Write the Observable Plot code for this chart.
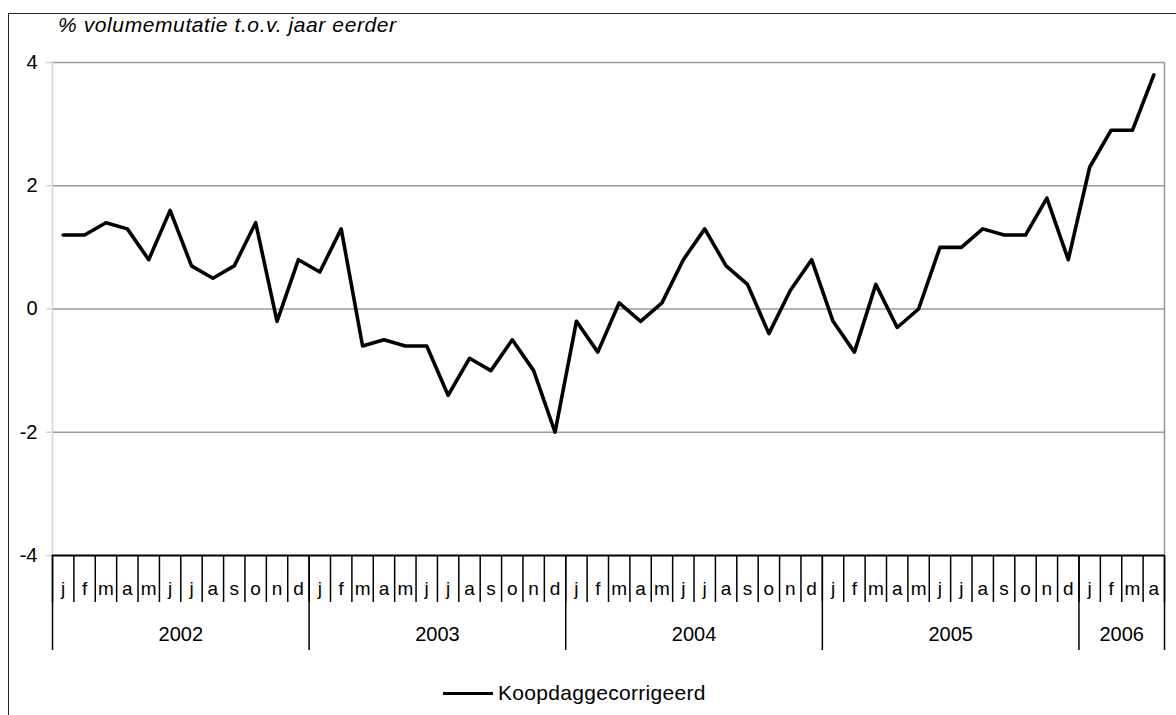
<!DOCTYPE html>
<html>
<head>
<meta charset="utf-8">
<script src="https://cdn.jsdelivr.net/npm/d3@7"></script>
<script src="https://cdn.jsdelivr.net/npm/@observablehq/plot@0.6"></script>
<style>
  html, body { margin: 0; padding: 0; background: #fff; }
  #wrap { position: relative; width: 1176px; height: 715px; overflow: hidden; font-family: "Liberation Sans", Arial, sans-serif; }
  #frame { position: absolute; left: 8px; top: 13px; width: 1200px; height: 800px; border-left: 1.5px solid #222; border-top: 1.5px solid #222; }
  #title { position: absolute; left: 58px; top: 13px; font-style: italic; font-size: 21px; letter-spacing: 0.6px; line-height: 24px; color: #000; white-space: nowrap; }
  #chart { position: absolute; left: 0; top: 0; }
  #legend { position: absolute; left: 443px; top: 681px; height: 24px; display: flex; align-items: center; font-size: 21px; letter-spacing: 0.3px; color: #000; white-space: nowrap; }
  #legend .sw { width: 50px; height: 0; border-top: 3.5px solid #000; margin-right: 5px; }
</style>
</head>
<body>
<div id="wrap">
  <div id="frame"></div>
  <div id="chart"></div>
  <div id="title"></div>
  <div id="legend"><div class="sw"></div><span id="legendText"></span></div>
</div>
<script>
const title = "% volumemutatie t.o.v. jaar eerder";
const seriesName = "Koopdaggecorrigeerd";
const monthLetters = ["j","f","m","a","m","j","j","a","s","o","n","d"];
const years = [2002, 2003, 2004, 2005, 2006];
const monthsPerYear = [12, 12, 12, 12, 4];
const yTicks = [-4, -2, 0, 2, 4];
const gridValues = [-2, 0, 2, 4];
const values = [
  1.2, 1.2, 1.4, 1.3, 0.8, 1.6, 0.7, 0.5, 0.7, 1.4, -0.2, 0.8,
  0.6, 1.3, -0.6, -0.5, -0.6, -0.6, -1.4, -0.8, -1.0, -0.5, -1.0, -2.0,
  -0.2, -0.7, 0.1, -0.2, 0.1, 0.8, 1.3, 0.7, 0.4, -0.4, 0.3, 0.8,
  -0.2, -0.7, 0.4, -0.3, 0.0, 1.0, 1.0, 1.3, 1.2, 1.2, 1.8, 0.8,
  2.3, 2.9, 2.9, 3.8
];

document.getElementById("title").textContent = title;
document.getElementById("legendText").textContent = seriesName;

const n = values.length;
const data = values.map((v, i) => ({ x: i + 0.5, v, m: monthLetters[i % 12] }));
const monthCenters = data.map(d => d.x);
const monthBounds = d3.range(n + 1);
const yearStarts = Array.from(d3.cumsum([0, ...monthsPerYear]));
const yearCenters = years.map((y, k) => (yearStarts[k] + yearStarts[k + 1]) / 2);
const yearByCenter = new Map(yearCenters.map((c, k) => [c, years[k]]));

const chart = Plot.plot({
  width: 1176,
  height: 670,
  marginLeft: 52,
  marginRight: 12,
  marginTop: 62,
  marginBottom: 115,
  style: { fontFamily: "'Liberation Sans', Arial, sans-serif", fontSize: "19px", color: "#000", background: "transparent" },
  x: { domain: [0, n], label: null },
  y: { domain: [-4, 4], label: null },
  marks: [
    Plot.ruleY(gridValues, { stroke: "#9a9a9a", strokeWidth: 1.6 }),
    Plot.ruleX([0], { stroke: "#c9d7e1", strokeWidth: 1.6 }),
    Plot.ruleX([n], { stroke: "#9a9a9a", strokeWidth: 1.6 }),
    Plot.axisY(yTicks, { label: null, tickSize: 6, tickPadding: 9, stroke: "#c9d7e1", strokeWidth: 1.6, fill: "#000", fontSize: 20, tickFormat: d => String(d) }),
    Plot.ruleY([-4], { stroke: "#000", strokeWidth: 2 }),
    Plot.axisX(monthBounds, { label: null, anchor: "bottom", tickSize: 47, tickFormat: () => "", stroke: "#000", strokeWidth: 1.5 }),
    Plot.axisX(yearStarts, { label: null, anchor: "bottom", tickSize: 95, tickFormat: () => "", stroke: "#000", strokeWidth: 1.5 }),
    Plot.axisX(monthCenters, { label: null, anchor: "bottom", tickSize: 0, tickPadding: 26, tickFormat: d => monthLetters[Math.floor(d) % 12], fill: "#000", fontSize: 19 }),
    Plot.axisX(yearCenters, { label: null, anchor: "bottom", tickSize: 0, tickPadding: 71, tickFormat: d => String(yearByCenter.get(d)), fill: "#000", fontSize: 20 }),
    Plot.line(data, { x: "x", y: "v", stroke: "#000", strokeWidth: 3.6 })
  ]
});
document.getElementById("chart").appendChild(chart);
</script>
</body>
</html>
